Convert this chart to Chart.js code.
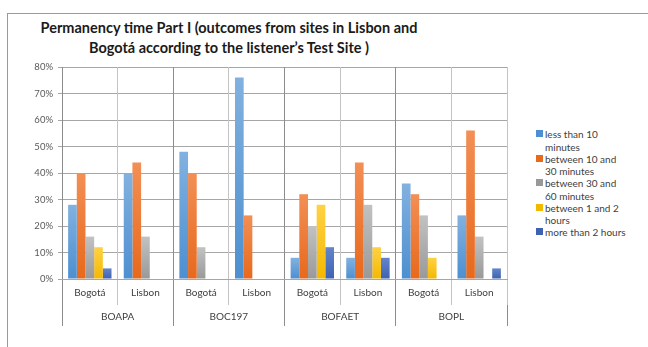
<!DOCTYPE html>
<html>
<head>
<meta charset="utf-8">
<script src="https://cdn.jsdelivr.net/npm/chart.js@4.4.1/dist/chart.umd.min.js"></script>
<style>
  html, body { margin: 0; padding: 0; background: #fff; }
  #wrap { position: relative; width: 648px; height: 347px; overflow: hidden; font-family: Lato, "Open Sans", sans-serif; }
  #frame { position: absolute; left: 7px; top: 13px; right: -2px; bottom: -2px; border-top: 1px solid #9a9a9a; border-left: 1px solid #9a9a9a; }
  #title { position: absolute; left: 9px; width: 440px; top: 17px; text-align: center; white-space: nowrap; font-weight: bold; font-size: 15.5px; line-height: 20px; color: #1a1a1a; transform: scaleX(0.935); transform-origin: 220px 0; }
  #legend { position: absolute; left: 536px; top: 128px; font-size: 10px; line-height: 12.5px; color: #404040; }
  #legend .item { position: relative; padding-left: 9px; width: 84px; margin-bottom: -0.5px; }
  #legend .box { position: absolute; left: 0; top: 2px; width: 7px; height: 7px; }
  canvas { position: absolute; left: 0; top: 0; }
</style>
</head>
<body>
<div id="wrap">
  <div id="frame"></div>
  <div id="title"></div>
  <div id="legend"></div>
  <canvas id="chart" width="648" height="347"></canvas>
</div>
<script>
// ---- data ----
const titleLines = ['Permanency time Part I (outcomes from sites in Lisbon and', 'Bogotá according to the listener’s Test Site )'];
const sites = ['Bogotá', 'Lisbon', 'Bogotá', 'Lisbon', 'Bogotá', 'Lisbon', 'Bogotá', 'Lisbon'];
const groups = ['BOAPA', 'BOC197', 'BOFAET', 'BOPL'];
const seriesNames = ['less than 10 minutes', 'between 10 and 30 minutes', 'between 30 and 60 minutes', 'between 1 and 2 hours', 'more than 2 hours'];
const lessThan10 = [28, 40, 48, 76, 8, 8, 36, 24];
const from10to30 = [40, 44, 40, 24, 32, 44, 32, 56];
const from30to60 = [16, 16, 12, 0, 20, 28, 24, 16];
const from1to2h  = [12, 0, 0, 0, 28, 12, 8, 0];
const over2h     = [4, 0, 0, 0, 12, 8, 0, 4];
const yTicks = [0, 10, 20, 30, 40, 50, 60, 70, 80];

// top / bottom shade of each series
const colors = [
  ['#82b1e0', '#4d8fd0'],
  ['#f38f55', '#e7691c'],
  ['#c2c2c2', '#999999'],
  ['#ffd244', '#f4b800'],
  ['#6385cb', '#3e62b0']
];

document.getElementById('title').innerHTML = titleLines.join('<br>');

const legendEl = document.getElementById('legend');
seriesNames.forEach((name, i) => {
  const item = document.createElement('div');
  item.className = 'item';
  item.innerHTML = '<span class="box" style="background:' + colors[i][1] + '"></span>' + name;
  legendEl.appendChild(item);
});

// vertical gradient per bar, from its top down to the baseline
function barFill(i) {
  return function(ctx) {
    const chart = ctx.chart;
    if (!chart.chartArea || !ctx.parsed) return colors[i][1];
    const y = chart.scales.y;
    const top = y.getPixelForValue(ctx.parsed.y);
    const base = y.getPixelForValue(0);
    if (base - top < 1) return colors[i][1];
    const g = chart.ctx.createLinearGradient(0, top, 0, base);
    g.addColorStop(0, colors[i][0]);
    g.addColorStop(1, colors[i][1]);
    return g;
  };
}

const values = [lessThan10, from10to30, from30to60, from1to2h, over2h];

new Chart(document.getElementById('chart'), {
  type: 'bar',
  data: {
    labels: sites,
    datasets: values.map((v, i) => ({
      label: seriesNames[i],
      data: v,
      backgroundColor: barFill(i),
      borderWidth: 0,
      categoryPercentage: 0.78,
      barPercentage: 1.0
    }))
  },
  options: {
    responsive: false,
    animation: false,
    events: [],
    layout: { padding: { left: 20, right: 141, top: 67, bottom: 0 } },
    plugins: {
      legend: { display: false },
      title: { display: false },
      tooltip: { enabled: false }
    },
    scales: {
      y: {
        min: 0,
        max: 80,
        afterFit: s => { s.width = 42; },
        afterBuildTicks: s => { s.ticks = yTicks.map(v => ({ value: v })); },
        ticks: {
          padding: 5,
          color: '#595959',
          font: { family: 'Lato', size: 9.5 },
          callback: v => v + '%'
        },
        grid: { color: '#a6a6a6', tickLength: 4 },
        border: { color: '#8c8c8c' }
      },
      x: {
        offset: true,
        afterFit: s => { s.height = 26; },
        ticks: {
          padding: -18,
          color: '#404040',
          font: { family: 'Lato', size: 10 },
          maxRotation: 0
        },
        grid: {
          offset: true,
          tickLength: 26,
          color: c => (c.index % 2 === 0 ? '#8c8c8c' : '#c4c4c4')
        },
        border: { color: '#a6a6a6' }
      },
      x2: {
        type: 'category',
        labels: groups,
        position: 'bottom',
        offset: true,
        afterFit: s => { s.height = 42; },
        ticks: {
          padding: -15,
          color: '#404040',
          font: { family: 'Lato', size: 10 },
          maxRotation: 0
        },
        grid: {
          offset: true,
          drawOnChartArea: false,
          tickLength: 21,
          color: '#8c8c8c'
        },
        border: { display: false }
      }
    }
  }
});
</script>
</body>
</html>
